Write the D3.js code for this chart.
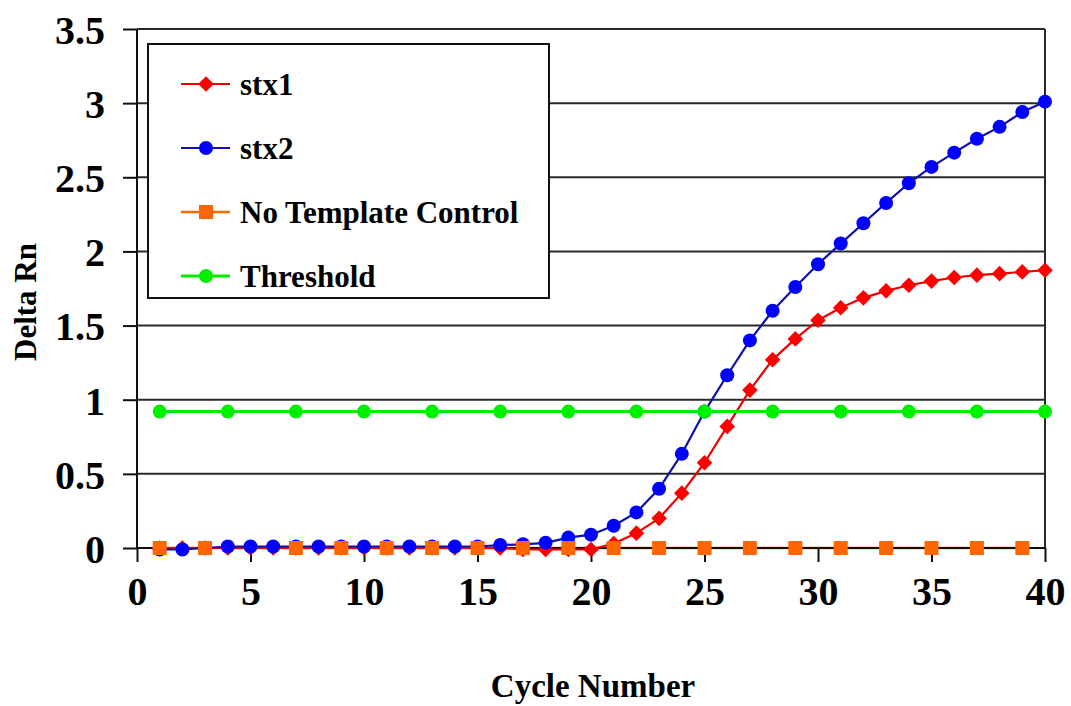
<!DOCTYPE html>
<html>
<head>
<meta charset="utf-8">
<script src="https://cdn.jsdelivr.net/npm/d3@7"></script>
<style>
  html, body { margin: 0; padding: 0; background: #ffffff; }
  svg { display: block; }
  text { font-family: "Liberation Serif", "Tinos", "Times New Roman", serif; font-weight: bold; fill: #000; }
</style>
</head>
<body>
<svg id="chart" width="1071" height="706"></svg>
<script>
// Amplification data (Delta Rn per PCR cycle)
const cycles = [1, 2, 3, 4, 5, 6, 7, 8, 9, 10, 11, 12, 13, 14, 15, 16, 17, 18, 19, 20,
                21, 22, 23, 24, 25, 26, 27, 28, 29, 30, 31, 32, 33, 34, 35, 36, 37, 38, 39, 40];
const stx1 = [0.00, 0.00, 0.00, 0.00, 0.00, 0.00, 0.00, 0.00, 0.00, 0.00,
              0.00, 0.00, 0.00, 0.00, 0.00, 0.00, -0.01, -0.01, -0.01, -0.01,
              0.03, 0.10, 0.20, 0.37, 0.575, 0.82, 1.065, 1.27, 1.41, 1.536,
              1.62, 1.687, 1.734, 1.772, 1.80, 1.824, 1.84, 1.85, 1.862, 1.873];
const stx2 = [-0.01, -0.01, 0.00, 0.01, 0.01, 0.01, 0.01, 0.01, 0.01, 0.01,
              0.01, 0.01, 0.01, 0.01, 0.01, 0.02, 0.025, 0.035, 0.07, 0.09,
              0.15, 0.24, 0.40, 0.635, 0.92, 1.165, 1.40, 1.60, 1.76, 1.914,
              2.053, 2.19, 2.327, 2.46, 2.57, 2.666, 2.76, 2.84, 2.94, 3.01];
const ntcCycles = [1, 3, 7, 9, 11, 13, 15, 17, 19, 21, 23, 25, 27, 29, 31, 33, 35, 37, 39];
const ntc = [0, 0, 0, 0, 0, 0, 0, 0, 0, 0, 0, 0, 0, 0, 0, 0, 0, 0, 0];
const thresholdCycles = [1, 4, 7, 10, 13, 16, 19, 22, 25, 28, 31, 34, 37, 40];
const threshold = [0.92, 0.92, 0.92, 0.92, 0.92, 0.92, 0.92, 0.92, 0.92, 0.92, 0.92, 0.92, 0.92, 0.92];
const xTicks = [0, 5, 10, 15, 20, 25, 30, 35, 40];
const yTicks = [0, 0.5, 1, 1.5, 2, 2.5, 3, 3.5];
const seriesNames = ["stx1", "stx2", "No Template Control", "Threshold"];

const svg = d3.select("#chart");
const plotLeft = 137, plotRight = 1045, plotTop = 29, plotBottom = 548;
const serifFamily = "'Liberation Serif', 'Tinos', 'Times New Roman', serif";

const x = d3.scaleLinear().domain([0, 40]).range([plotLeft, plotRight]);
const y = d3.scaleLinear().domain([0, 3.5]).range([plotBottom, plotTop]);

// marker drawing helpers
const diamond = r => `M0,${-r}L${r},0L0,${r}L${-r},0Z`;
const markers = {
  diamond: (g, color) => g.append("path").attr("d", diamond(7.8)).attr("fill", color),
  circle: (g, color) => g.append("circle").attr("r", 7).attr("fill", color),
  square: (g, color) => g.append("rect").attr("x", -7).attr("y", -7).attr("width", 14).attr("height", 14).attr("fill", color)
};

const series = [
  { name: seriesNames[0], xs: cycles, ys: stx1, line: "#ee0000", fill: "#ff0000", width: 2.2, shape: "diamond" },
  { name: seriesNames[1], xs: cycles, ys: stx2, line: "#1010a8", fill: "#0000ff", width: 2.2, shape: "circle" },
  { name: seriesNames[2], xs: ntcCycles, ys: ntc, line: "#ff6600", fill: "#ff6600", width: 2.5, shape: "square" },
  { name: seriesNames[3], xs: thresholdCycles, ys: threshold, line: "#00ee00", fill: "#00ee00", width: 3, shape: "circle" }
];

// horizontal gridlines
svg.append("g").selectAll("line").data(yTicks).join("line")
  .attr("x1", plotLeft).attr("x2", plotRight)
  .attr("y1", d => y(d)).attr("y2", d => y(d))
  .attr("stroke", "#2a2a2a").attr("stroke-width", 2);

// right border of plot area
svg.append("line").attr("x1", plotRight).attr("x2", plotRight).attr("y1", plotTop).attr("y2", plotBottom)
  .attr("stroke", "#2a2a2a").attr("stroke-width", 2);

const lineGen = s => d3.line().x((d, i) => x(s.xs[i])).y(d => y(d));

// the no-template-control trace lies on the baseline, beneath the axis
const ntcSeries = series[2];
svg.append("path").datum(ntcSeries.ys).attr("d", lineGen(ntcSeries))
  .attr("fill", "none").attr("stroke", ntcSeries.line).attr("stroke-width", ntcSeries.width);

// axes
const xAxis = d3.axisBottom(x).tickValues(xTicks).tickSize(14).tickPadding(14).tickFormat(d3.format("d"));
const yAxis = d3.axisLeft(y).tickValues(yTicks).tickSize(14).tickPadding(18).tickFormat(d => String(d));

const gx = svg.append("g").attr("transform", `translate(0,${plotBottom})`).call(xAxis);
const gy = svg.append("g").attr("transform", `translate(${plotLeft},0)`).call(yAxis);
[gx, gy].forEach(g => {
  g.attr("font-family", serifFamily).attr("font-size", 40).attr("font-weight", "bold");
  g.select(".domain").attr("stroke", "#111").attr("stroke-width", 2);
  g.selectAll(".tick line").attr("stroke", "#111").attr("stroke-width", 2);
  g.selectAll(".tick text").style("font-size", "40px").style("font-family", serifFamily)
    .style("font-weight", "bold").attr("fill", "#000");
});
gx.select(".domain").attr("d", `M${plotLeft},0H${plotRight}`);
gy.select(".domain").attr("d", `M0,${plotBottom}V${plotTop}`);
gx.selectAll(".tick text").attr("dy", "0.72em");
gy.selectAll(".tick text").attr("dy", "0.36em");

// series lines and markers, drawn in legend order
series.forEach((s, si) => {
  const g = svg.append("g");
  if (si !== 2) {
    g.append("path").datum(s.ys).attr("d", lineGen(s))
      .attr("fill", "none").attr("stroke", s.line).attr("stroke-width", s.width)
      .attr("stroke-linejoin", "round");
  }
  s.ys.forEach((v, i) => {
    const m = g.append("g").attr("transform", `translate(${x(s.xs[i])},${y(v)})`);
    markers[s.shape](m, s.fill);
  });
});

// legend
const legend = svg.append("g");
legend.append("rect").attr("x", 148).attr("y", 44).attr("width", 401).attr("height", 254)
  .attr("fill", "#fff").attr("stroke", "#111").attr("stroke-width", 2);
series.forEach((s, i) => {
  const cy = 84 + i * 64;
  legend.append("line").attr("x1", 181).attr("x2", 230).attr("y1", cy).attr("y2", cy)
    .attr("stroke", s.line).attr("stroke-width", s.width);
  const m = legend.append("g").attr("transform", `translate(206,${cy})`);
  markers[s.shape](m, s.fill);
  legend.append("text").attr("x", 240).attr("y", cy).attr("dy", "0.36em")
    .style("font-family", serifFamily).style("font-size", "31px").text(s.name);
});

// axis titles
svg.append("text").attr("x", 593).attr("y", 697).attr("text-anchor", "middle")
  .style("font-family", serifFamily).style("font-size", "33px").text("Cycle Number");
svg.append("text").attr("transform", "translate(36,302) rotate(-90)").attr("text-anchor", "middle")
  .style("font-family", serifFamily).style("font-size", "31px").text("Delta Rn");
</script>
</body>
</html>
